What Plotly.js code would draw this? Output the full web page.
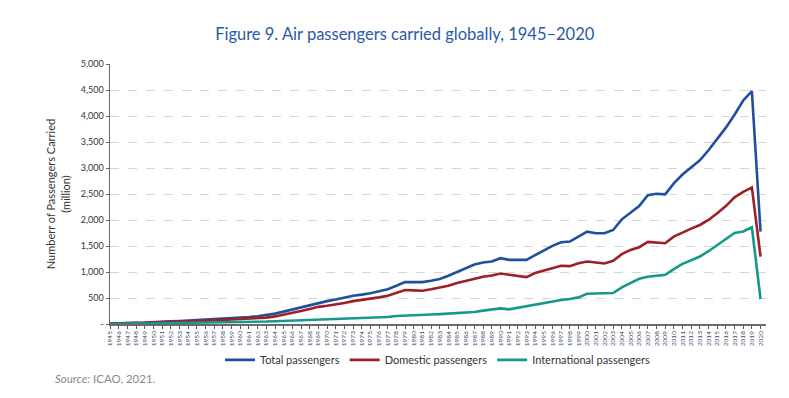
<!DOCTYPE html>
<html>
<head>
<meta charset="utf-8">
<script src="https://cdn.plot.ly/plotly-3.0.1.min.js"></script>
<style>
  html, body { margin: 0; padding: 0; background: #fff; }
  #chart { width: 789px; height: 398px; }
</style>
</head>
<body>
<div id="chart"></div>
<script>
// Years (categories)
const years = [];
for (let y = 1945; y <= 2020; y++) years.push(y);

// Total passengers (million)
const totalPassengers = [
  9, 18, 21, 24, 27, 31, 42, 50, 58, 66,
  75, 85, 95, 100, 112, 125, 135, 150, 170, 200,
  238, 278, 320, 365, 410, 440, 470, 510, 545, 565,
  590, 630, 670, 735, 805, 805, 805, 830, 865, 927,
  998, 1074, 1144, 1182, 1201, 1266, 1234, 1234, 1234, 1323,
  1412, 1502, 1572, 1585, 1680, 1776, 1745, 1745, 1808, 2013,
  2140, 2268, 2479, 2504, 2492, 2703, 2875, 3015, 3149, 3341,
  3552, 3776, 4025, 4299, 4477, 1776
];

// Domestic passengers (million)
const domesticPassengers = [
  8, 15, 17, 19, 21, 24, 32, 38, 44, 50,
  56, 63, 70, 74, 82, 90, 97, 108, 123, 146,
  178, 212, 250, 290, 330, 352, 372, 404, 440, 462,
  485, 512, 544, 596, 655, 646, 640, 668, 695, 736,
  787, 831, 876, 908, 933, 971, 946, 927, 902, 979,
  1023, 1080, 1119, 1113, 1170, 1201, 1182, 1165, 1215, 1343,
  1425, 1477, 1579, 1573, 1553, 1680, 1764, 1834, 1904, 2000,
  2128, 2268, 2435, 2540, 2626, 1297
];

// International passengers (million)
const internationalPassengers = [
  1, 3, 4, 5, 6, 7, 10, 12, 14, 16,
  19, 22, 25, 26, 30, 35, 38, 42, 47, 54,
  60, 66, 70, 75, 80, 85, 90, 100, 105, 110,
  116, 123, 135, 155, 165, 172, 178, 184, 190, 199,
  205, 212, 231, 257, 280, 301, 282, 314, 340, 372,
  404, 429, 461, 481, 512, 582, 582, 588, 595, 703,
  787, 870, 908, 927, 946, 1055, 1157, 1227, 1297, 1400,
  1521, 1636, 1751, 1780, 1860, 481
];

// Axis tick labels
const yTickVals = [0, 500, 1000, 1500, 2000, 2500, 3000, 3500, 4000, 4500, 5000];
const yTickText = ['-', '500', '1,000', '1,500', '2,000', '2,500', '3,000', '3,500', '4,000', '4,500', '5,000'];
const xTickText = years.map(String);

const seriesNames = ['Total passengers', 'Domestic passengers', 'International passengers'];
const seriesColors = ['#1f4f9e', '#9e1f24', '#16998a'];
const seriesData = [totalPassengers, domesticPassengers, internationalPassengers];

const traces = seriesData.map((vals, i) => ({
  type: 'scatter',
  mode: 'lines',
  x: years,
  y: vals,
  name: seriesNames[i],
  line: { color: seriesColors[i], width: 2.6 },
  hoverinfo: 'x+y+name'
}));

const FONT = 'Lato, "Open Sans", sans-serif';

const layout = {
  width: 789,
  height: 398,
  margin: { l: 110, r: 23, t: 64, b: 74, pad: 0 },
  paper_bgcolor: '#ffffff',
  plot_bgcolor: '#ffffff',
  font: { family: FONT, color: '#333333' },
  title: {
    text: 'Figure 9. Air passengers carried globally, 1945–2020',
    font: { family: FONT, size: 16.5, color: '#2a5aa6' },
    xref: 'container', yref: 'container',
    x: 0.513, xanchor: 'center',
    y: 1 - 34 / 398, yanchor: 'middle'
  },
  xaxis: {
    type: 'linear',
    range: [1944.97, 2020.63],
    tickmode: 'array',
    tickvals: years,
    ticktext: xTickText,
    tickangle: -90,
    tickfont: { family: FONT, size: 6.5, color: '#3d4b6b' },
    ticks: 'outside',
    ticklen: 3,
    tickwidth: 1,
    tickcolor: '#555555',
    showline: true,
    linecolor: '#6a6a6a',
    linewidth: 1.5,
    showgrid: false,
    zeroline: false,
    fixedrange: true
  },
  yaxis: {
    range: [0, 5000],
    tickmode: 'array',
    tickvals: yTickVals,
    ticktext: yTickText,
    tickfont: { family: FONT, size: 9, color: '#333333' },
    ticks: 'outside',
    ticklen: 3,
    tickwidth: 1,
    tickcolor: '#666666',
    showline: true,
    linecolor: '#6a6a6a',
    linewidth: 1.5,
    showgrid: true,
    gridcolor: '#d6d6d6',
    gridwidth: 1,
    griddash: 'dash',
    zeroline: false,
    fixedrange: true,
    title: {
      text: 'Numberr of Passengers Carried<br>(million)',
      font: { family: FONT, size: 11, color: '#333333' },
      standoff: 8
    }
  },
  showlegend: true,
  legend: {
    orientation: 'h',
    x: 0.5, xanchor: 'center',
    y: -0.138, yanchor: 'middle',
    font: { family: FONT, size: 11, color: '#333333' },
    itemwidth: 30,
    bgcolor: 'rgba(0,0,0,0)'
  },
  annotations: [{
    text: '<i>Source:</i> ICAO, 2021.',
    xref: 'paper', yref: 'paper',
    x: (53 - 110) / 656, xanchor: 'left',
    y: -0.2115, yanchor: 'middle',
    showarrow: false,
    font: { family: FONT, size: 11.5, color: '#8a8a8a' }
  }]
};

Plotly.newPlot('chart', traces, layout, { displayModeBar: false, staticPlot: true });
</script>
</body>
</html>
